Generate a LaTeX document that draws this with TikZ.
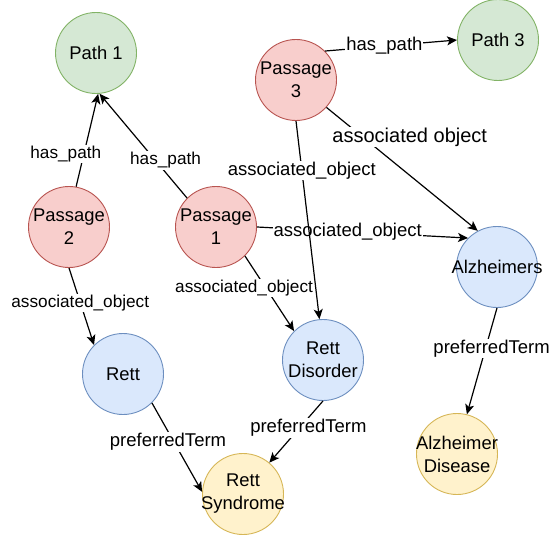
\documentclass[tikz,border=0pt]{standalone}
\usepackage{fontspec}
\setmainfont{Liberation Sans}
\usetikzlibrary{arrows.meta}
\definecolor{pathfill}{RGB}{213,232,212}
\definecolor{pathline}{RGB}{130,179,102}
\definecolor{passfill}{RGB}{248,206,204}
\definecolor{passline}{RGB}{184,84,80}
\definecolor{objfill}{RGB}{218,232,252}
\definecolor{objline}{RGB}{108,142,191}
\definecolor{termfill}{RGB}{255,242,204}
\definecolor{termline}{RGB}{214,182,86}

\begin{document}
\begin{tikzpicture}[x=1pt, y=-1pt,
    ent/.style={circle, draw, line width=0.9pt, minimum size=81pt, inner sep=-12pt, align=center, font=\fontsize{18.4}{23}\selectfont},
    pathnode/.style={ent, fill=pathfill, draw=pathline},
    passnode/.style={ent, fill=passfill, draw=passline},
    objnode/.style={ent, fill=objfill, draw=objline},
    termnode/.style={ent, fill=termfill, draw=termline},
    rel/.style={line width=1.2pt, -{Stealth[length=10pt, width=9pt, inset=2.5pt]}},
    lbl/.style={fill=white, inner sep=1pt, font=\fontsize{18.5}{21}\selectfont},
    smalllbl/.style={lbl, font=\fontsize{17.2}{20}\selectfont},
    biglbl/.style={lbl, font=\fontsize{20}{23}\selectfont}]
    \useasboundingbox (0,0) rectangle (553,537);

    % Paths
    \node[pathnode] (path1) at (96,53) {Path 1};
    \node[pathnode] (path3) at (498,40) {Path 3};

    % Passages
    \node[passnode] (pass2) at (69,227) {Passage\\2};
    \node[passnode] (pass1) at (216,227) {Passage\\1};
    \node[passnode] (pass3) at (296,80) {Passage\\3};

    % Objects
    \node[objnode] (alz) at (497,267) {Alzheimers};
    \node[objnode] (rett) at (123,374) {Rett};
    \node[objnode] (rettdis) at (323,360) {Rett\\Disorder};

    % Preferred terms
    \node[termnode] (rettsyn) at (243,494) {Rett\\Syndrome};
    \node[termnode] (alzdis) at (457,454) {Alzheimer\\Disease};

    % has_path
    \draw[rel] (pass2.80) -- node[smalllbl, pos=0.35, xshift=-18pt] {has\_path} (path1.-87);
    \draw[rel] (pass1.135) -- node[smalllbl, pos=0.36, xshift=10pt] {has\_path} (path1.-85);
    \draw[rel] (pass3.45) -- node[lbl, pos=0.45] {has\_path} (path3.west);

    % associated objects
    \draw[rel] (pass3.-42) -- node[biglbl, pos=0.24, xshift=47pt] {associated object} (alz.118);
    \draw[rel] (pass1.east) -- node[lbl, pos=0.43] {associated\_object} (alz.135);
    \draw[rel] (pass3.south) -- node[lbl, pos=0.25] {associated\_object} (rettdis.95);
    \draw[rel] (pass1.-45) -- node[smalllbl, pos=0.43, xshift=-22pt] {associated\_object} (rettdis.135);
    \draw[rel] (pass2.south) -- node[smalllbl, pos=0.45] {associated\_object} (rett.135);

    % preferredTerm
    \draw[rel] (rett.-45) -- node[lbl, pos=0.44, xshift=-6pt] {preferredTerm} (rettsyn.177);
    \draw[rel] (rettdis.south) -- node[lbl, pos=0.44, xshift=9pt] {preferredTerm} (rettsyn.50);
    \draw[rel] (alz.south) -- node[lbl, pos=0.38, xshift=6pt] {preferredTerm} (alzdis.76);
\end{tikzpicture}
\end{document}
